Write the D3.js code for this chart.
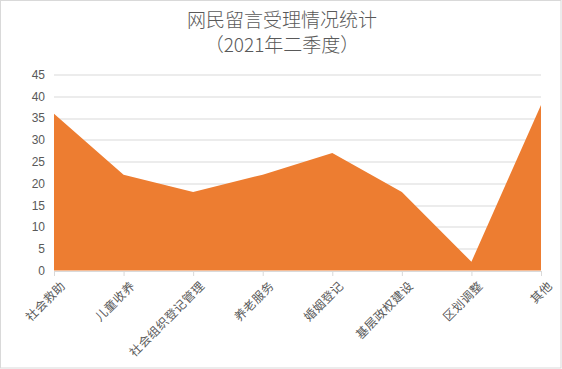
<!DOCTYPE html>
<html>
<head>
<meta charset="utf-8">
<script src="https://cdn.jsdelivr.net/npm/d3@7"></script>
<style>
  body { margin: 0; background: #fff; }
  text { font-family: "Noto Sans CJK SC", "DejaVu Sans", sans-serif; fill: #595959; }
</style>
</head>
<body>
<div id="chart"></div>
<script>
const categories = ['社会救助', '儿童收养', '社会组织登记管理', '养老服务', '婚姻登记', '基层政权建设', '区划调整', '其他'];
const values = [36, 22, 18, 22, 27, 18, 2, 38];
const yTicks = [0, 5, 10, 15, 20, 25, 30, 35, 40, 45];
const titleLines = ['网民留言受理情况统计', '（2021年二季度）'];

const W = 562, H = 369;
const margin = {top: 74.5, right: 21, bottom: 98.5, left: 54};
const width = W - margin.left - margin.right;
const height = H - margin.top - margin.bottom;

const svg = d3.select('#chart').append('svg')
  .attr('width', W)
  .attr('height', H);

// chart border
svg.append('rect')
  .attr('x', 0.5).attr('y', 0.5)
  .attr('width', W - 1.5).attr('height', H - 1.5)
  .attr('fill', '#fff')
  .attr('stroke', '#d9d9d9');

// title
svg.selectAll('.title')
  .data(titleLines)
  .enter().append('text')
  .attr('class', 'title')
  .attr('x', W / 2 + 1)
  .attr('y', (d, i) => 27 + i * 25)
  .attr('text-anchor', 'middle')
  .style('font-size', '19px')
  .style('font-weight', '300')
  .text(d => d);

const g = svg.append('g')
  .attr('transform', 'translate(' + margin.left + ',' + margin.top + ')');

const x = d3.scalePoint()
  .domain(categories)
  .range([0, width]);

const y = d3.scaleLinear()
  .domain([0, 45])
  .range([height, 0]);

// gridlines
g.selectAll('.grid')
  .data(yTicks.filter(d => d > 0))
  .enter().append('line')
  .attr('x1', 0).attr('x2', width)
  .attr('y1', d => Math.round(y(d)) + 0.5)
  .attr('y2', d => Math.round(y(d)) + 0.5)
  .attr('stroke', '#d9d9d9');

// area
const area = d3.area()
  .x((d, i) => x(categories[i]))
  .y0(y(0))
  .y1(d => y(d));

g.append('path')
  .datum(values)
  .attr('fill', '#ed7d31')
  .attr('d', area);

// y axis
const yAxis = g.append('g')
  .call(d3.axisLeft(y).tickValues(yTicks).tickSize(0).tickPadding(9));
yAxis.select('.domain').remove();
yAxis.selectAll('text')
  .style('font-size', '12px')
  .style('font-family', '"Liberation Sans", Arial, sans-serif')
  .attr('fill', '#595959');

// x axis
const xAxis = g.append('g')
  .attr('transform', 'translate(0,' + (Math.round(height) + 0.5) + ')')
  .call(d3.axisBottom(x).tickSize(5).tickSizeOuter(0));
xAxis.select('.domain').attr('stroke', '#d9d9d9');
xAxis.selectAll('.tick line').attr('stroke', '#d9d9d9');
xAxis.selectAll('text')
  .style('font-size', '12px')
  .style('letter-spacing', '0.5px')
  .attr('fill', '#595959')
  .attr('text-anchor', 'end')
  .attr('dy', '0')
  .attr('transform', 'translate(6,10) rotate(-45)');
</script>
</body>
</html>
